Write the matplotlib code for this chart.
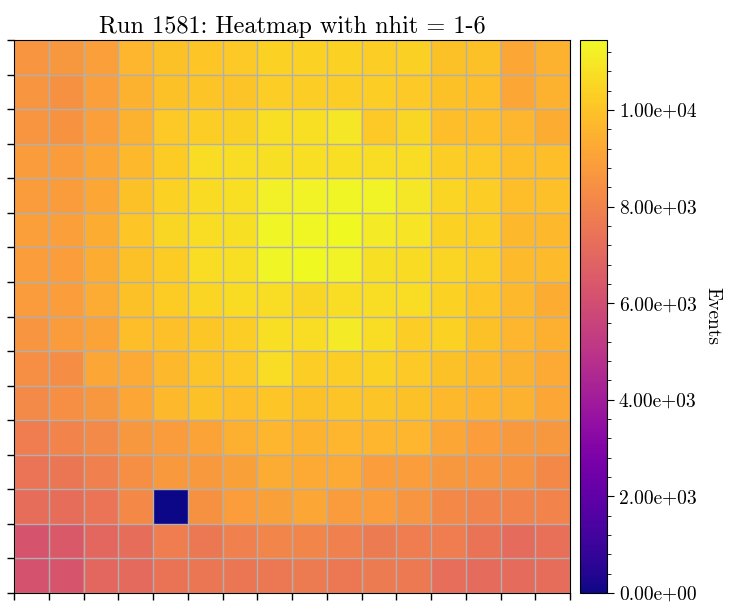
import numpy as np
import matplotlib
matplotlib.use("Agg")
import matplotlib.pyplot as plt
from matplotlib.ticker import FormatStrFormatter, AutoMinorLocator

plt.rcParams['font.family'] = ['cmr10', 'DejaVu Serif']
plt.rcParams['mathtext.fontset'] = 'cm'
plt.rcParams['axes.formatter.use_mathtext'] = True

title = "Run 1581: Heatmap with nhit = 1-6"
cbar_label = "Events"

# rows listed top to bottom, columns left to right
row00 = [8588, 8702, 8931, 9618, 9962, 10076, 10191, 10420, 10420, 10420, 10305, 10362, 9962, 9962, 9160, 9504]
row01 = [8588, 8473, 8931, 9504, 9962, 10019, 10019, 10305, 10305, 10305, 10305, 10191, 9962, 9847, 9160, 9504]
row02 = [8588, 8530, 8931, 9504, 10191, 10305, 10362, 10763, 10763, 10992, 10191, 10534, 9847, 9847, 9618, 9389]
row03 = [8817, 8817, 9160, 9733, 10248, 10706, 10706, 10820, 10763, 10763, 10706, 10706, 10305, 10191, 9847, 9847]
row04 = [8817, 8817, 9160, 9962, 10420, 10649, 10763, 11221, 11278, 11336, 11278, 10992, 10477, 10305, 9847, 9904]
row05 = [8931, 8931, 9389, 10076, 10534, 10706, 10820, 11336, 11393, 11450, 11049, 10878, 10420, 10305, 9733, 9733]
row06 = [8874, 8874, 9389, 9962, 10248, 10706, 10763, 11336, 11420, 11278, 10820, 10649, 10477, 10305, 9790, 9790]
row07 = [8817, 8874, 9332, 9962, 10248, 10477, 10649, 10706, 10534, 10706, 10706, 10706, 10420, 10076, 9733, 9389]
row08 = [8588, 8817, 9046, 9847, 9904, 10133, 10305, 10763, 10706, 11049, 10706, 10305, 10420, 9962, 9618, 9446]
row09 = [8416, 8359, 9160, 9275, 9733, 10019, 10191, 10706, 10305, 10305, 10420, 10191, 9962, 9733, 9504, 9275]
row10 = [8244, 8416, 8702, 9160, 9733, 9962, 9847, 10076, 9962, 10019, 10019, 9962, 9733, 9561, 9504, 9160]
row11 = [7786, 8015, 8244, 8702, 8817, 9046, 9446, 9618, 9561, 9618, 9618, 9618, 9160, 8874, 8759, 8702]
row12 = [7500, 7557, 7900, 8416, 8759, 8759, 8988, 9332, 9275, 9275, 8874, 8874, 8702, 8588, 8530, 8187]
row13 = [7214, 7214, 7500, 8187, 0, 8473, 8874, 8988, 9160, 8817, 8874, 8588, 8187, 8015, 8015, 8015]
row14 = [6240, 6469, 6985, 7214, 7786, 7614, 7900, 8072, 8072, 7900, 7729, 7786, 7786, 7443, 7156, 7328]
row15 = [6183, 6298, 6985, 7099, 7443, 7557, 7557, 7614, 7729, 7614, 7729, 7672, 7271, 7156, 7156, 7214]

data = np.array([row00, row01, row02, row03, row04, row05, row06, row07,
                 row08, row09, row10, row11, row12, row13, row14, row15], dtype=float)

W, H = 731, 607
fig = plt.figure(figsize=(W / 100, H / 100), dpi=100)
ax = fig.add_axes([14 / W, 1 - 593 / H, (570 - 14) / W, (593 - 40) / H])
cax = fig.add_axes([580 / W, 1 - 593 / H, (607 - 580) / W, (593 - 40) / H])

n = data.shape[0]
im = ax.imshow(data, cmap='plasma', vmin=0, vmax=data.max(), aspect='auto',
               extent=(0, n, n, 0), interpolation='nearest')
ax.set_xticks(np.arange(n + 1))
ax.set_yticks(np.arange(n + 1))
ax.set_xticklabels([])
ax.set_yticklabels([])
ax.grid(True, color='#b0b0b0', linewidth=1.0)
ax.tick_params(length=5, width=1)
ax.set_title(title, fontsize=17.5, pad=5)

cb = fig.colorbar(im, cax=cax)
cb.ax.yaxis.set_major_formatter(FormatStrFormatter('%.2e'))
cb.ax.yaxis.set_minor_locator(AutoMinorLocator(5))
cb.ax.tick_params(labelsize=14, length=5)
cb.ax.tick_params(which='minor', length=3)
cb.set_label(cbar_label, rotation=270, fontsize=14, labelpad=18)

fig.savefig("out.png", dpi=100)
